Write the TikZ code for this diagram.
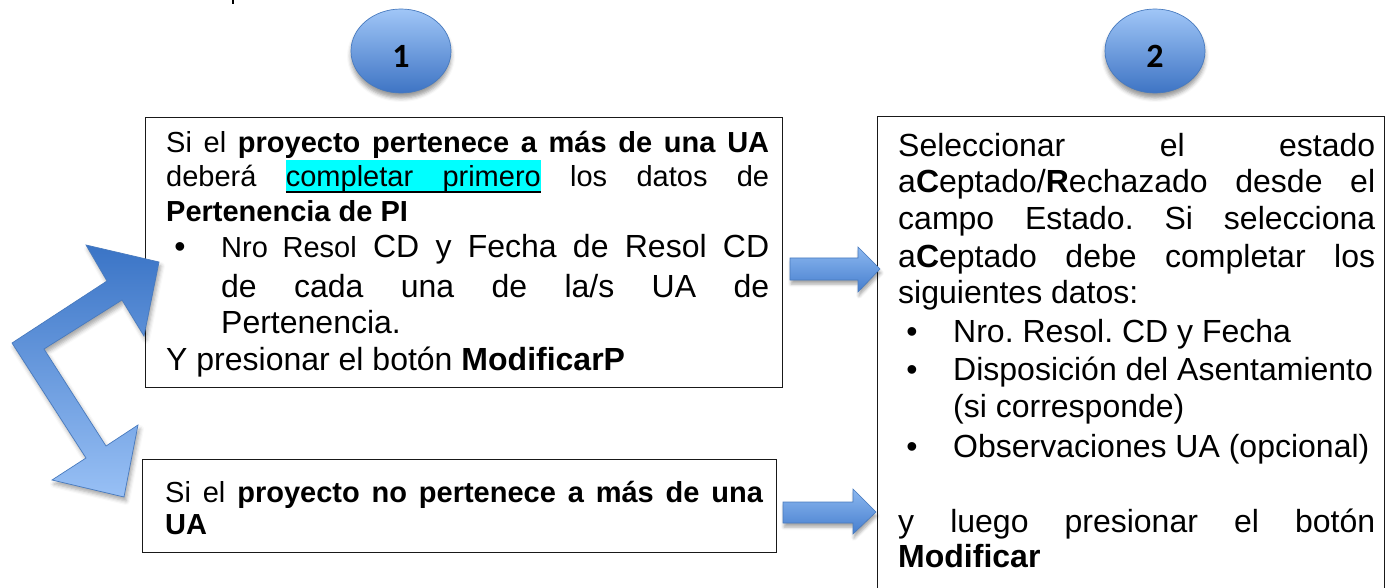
\documentclass[tikz,border=0pt]{standalone}
\usepackage{fontspec}
\setmainfont{Liberation Sans}
\newfontfamily\numfont{Carlito}
\usetikzlibrary{shapes.geometric,shadows.blur,calc}
\definecolor{bubbletop}{RGB}{160,198,247}
\definecolor{bubblebot}{RGB}{62,116,196}
\definecolor{bubbleedge}{RGB}{72,122,190}
\definecolor{arrowdark}{RGB}{58,116,198}
\definecolor{arrowlight}{RGB}{152,192,245}
\definecolor{smalltop}{RGB}{140,184,240}
\definecolor{smallbot}{RGB}{70,126,206}
\definecolor{hlcyan}{RGB}{0,255,255}
\newlength\gapA
\frenchspacing
\newcommand\myhl[1]{\begingroup\setbox0=\hbox{#1}\rlap{\textcolor{hlcyan}{\rule[-3.7pt]{\wd0}{30.7pt}}}\rlap{\rule[-6.3pt]{\wd0}{2.6pt}}\box0\endgroup}
\tikzset{
  txtbox/.style={draw=black!90, line width=1.1pt, anchor=north west, inner sep=0pt},
  bubble/.style={ellipse, draw=bubbleedge, line width=0.7pt, top color=bubbletop, bottom color=bubblebot,
    minimum width=100pt, minimum height=84pt, inner sep=0pt,
    blur shadow={shadow xshift=0pt, shadow yshift=-5pt, shadow blur radius=4pt, shadow opacity=40}},
  numtxt/.style={font=\numfont\bfseries\fontsize{34}{34}\selectfont, inner sep=0pt},
  bigarrow/.style={draw=bubbleedge, line width=0.7pt, top color=arrowdark, bottom color=arrowlight,
    blur shadow={shadow xshift=2pt, shadow yshift=-4pt, shadow blur radius=4pt, shadow opacity=35}},
  smallarrow/.style={draw=bubbleedge, line width=0.6pt, top color=smalltop, bottom color=smallbot,
    blur shadow={shadow xshift=1pt, shadow yshift=-4pt, shadow blur radius=3pt, shadow opacity=35}},
  lnA/.style={anchor=base west, inner sep=0pt, font=\fontsize{29}{33}\selectfont},
  lnB/.style={anchor=base west, inner sep=0pt, font=\fontsize{32}{37}\selectfont},
  bul/.style={anchor=base, inner sep=0pt, font=\fontsize{32}{37}\selectfont},
}
\begin{document}
\begin{tikzpicture}[x=1pt,y=-1pt]
\useasboundingbox (0,0) rectangle (1387,588);
% fragment of text cut at the top
\fill (231.6,0) rectangle (234,4.5);

% step bubbles
\node[bubble] (c1) at (401,51) {};
\node[numtxt] (n1) at ($(c1.center)+(0,5)$) {1};
\node[bubble] (c2) at (1155,51) {};
\node[numtxt] (n2) at ($(c2.center)+(0,5)$) {2};

% box 1
\node[txtbox, minimum width=637pt, minimum height=270pt] (b1) at (145,117) {};
\node[lnA] (b1a) at (166,153) {\makebox[603pt][s]{Si el \textbf{proyecto pertenece a más de una UA}}};
\node[lnA] (b1b) at (166,187) {\settowidth\gapA{deberácompletarprimerolosdatosde}\setlength\gapA{\dimexpr(603pt-\gapA)/5\relax}deberá\hspace{\gapA}\myhl{completar\hspace{\gapA}primero}\hspace{\gapA}los\hspace{\gapA}datos\hspace{\gapA}de};
\node[lnA] (b1c) at (166,222) {\textbf{Pertenencia de PI}};
\node[bul] (b1d0) at (180,258) {•};
\node[lnB] (b1d) at (221,258) {\makebox[548pt][s]{{\fontsize{29}{33}\selectfont Nro Resol} CD y Fecha de Resol CD}};
\node[lnB] (b1e) at (221,297) {\makebox[548pt][s]{de cada una de la/s UA de}};
\node[lnB] (b1f) at (221,333) {Pertenencia.};
\node[lnB] (b1g) at (166,370) {Y presionar el botón \textbf{ModificarP}};

% box 3
\node[txtbox, minimum width=634pt, minimum height=93pt] (b3) at (142,459) {};
\node[lnA] (b3a) at (165,502) {\makebox[598pt][s]{Si el \textbf{proyecto no pertenece a más de una}}};
\node[lnA] (b3b) at (165,534) {\textbf{UA}};

% box 2
\node[txtbox, minimum width=507pt, minimum height=490pt] (b2) at (877,116) {};
\node[lnB] (b2a) at (898,157) {\makebox[477pt][s]{Seleccionar el estado}};
\node[lnB] (b2b) at (898,193) {\makebox[477pt][s]{a\textbf{C}eptado/\textbf{R}echazado desde el}};
\node[lnB] (b2c) at (898,230) {\makebox[477pt][s]{campo Estado. Si selecciona}};
\node[lnB] (b2d) at (898,267) {\makebox[477pt][s]{a\textbf{C}eptado debe completar los}};
\node[lnB] (b2e) at (898,303) {siguientes datos:};
\node[bul] (b2f0) at (912,342) {•};
\node[lnB] (b2f) at (953,342) {Nro. Resol. CD y Fecha};
\node[bul] (b2g0) at (912,380) {•};
\node[lnB] (b2g) at (953,380) {Disposición del Asentamiento};
\node[lnB] (b2h) at (953,417) {(si corresponde)};
\node[bul] (b2i0) at (912,457) {•};
\node[lnB] (b2i) at (953,457) {Observaciones UA (opcional)};
\node[lnB] (b2j) at (898,532) {\makebox[477pt][s]{y luego presionar el botón}};
\node[lnB] (b2k) at (898,567) {\textbf{Modificar}};

% bent arrow (drawn over box 1)
\path[bigarrow] (159,262) -- (144,336) -- (122,300) -- (44,349) -- (106,446) -- (138,425)
  -- (124,497) -- (52,480) -- (86,458) -- (12,343) -- (107,281) -- (86,245) -- cycle;

% connecting block arrows
\path[smallarrow] (790,258) -- (858,258) -- (858,247) -- (880,269) -- (858,292) -- (858,280) -- (790,280) -- cycle;
\path[smallarrow] (783,502) -- (853,502) -- (853,489) -- (876,512) -- (853,534) -- (853,523) -- (783,523) -- cycle;
\end{tikzpicture}
\end{document}
